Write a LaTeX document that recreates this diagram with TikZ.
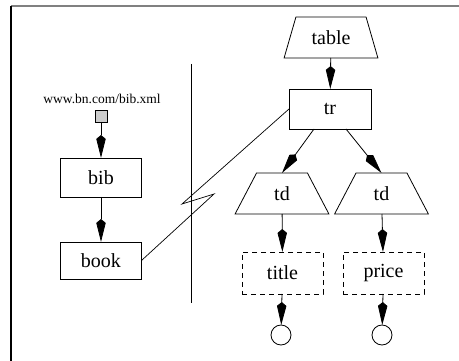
\documentclass[tikz,border=0pt]{standalone}
\usepackage{fontspec}
\setmainfont{Liberation Serif}
\usetikzlibrary{arrows.meta,shapes.geometric}
\begin{document}
\begin{tikzpicture}[x=1pt,y=-1pt,
  every node/.style={inner sep=0pt,outer sep=0pt,font=\fontsize{20}{24}\selectfont},
  box/.style={draw,line width=0.8pt,minimum width=81pt,minimum height=39pt},
  dbox/.style={box,dashed,dash pattern=on 5pt off 4pt,minimum height=42pt},
  trap/.style={draw,line width=0.8pt,trapezium,trapezium angle=65,
    trapezium stretches=true,minimum width=94pt,minimum height=41pt},
  leaf/.style={draw,circle,line width=0.8pt,minimum size=20pt},
  arr/.style={line width=0.8pt,-{Stealth[length=19pt,width=9pt,inset=-4pt]}},
  link/.style={line width=0.7pt}]
\useasboundingbox (0,0) rectangle (459,361);
% frame
\draw[line width=2pt,gray] (11,6) -- (459,6);
\draw[line width=1.4pt] (11,6) -- (11,361);
% separator
\coordinate (s1) at (191,64);
\coordinate (s2) at (191,303);
\draw[line width=0.8pt] (s1) -- (s2);
% source document
\node[font=\fontsize{13.5}{16}\selectfont] (url) at (102,99) {www.bn.com/bib.xml};
\node[draw,fill=gray!40,line width=0.7pt,minimum size=12pt] (src) at (101,116) {};
\node[box] (bib) at (101,177.5) {bib};
\node[box,minimum height=37pt] (book) at (101,260.5) {book};
\draw[arr] (src) -- (bib);
\draw[arr] (bib) -- (book);
% output tree
\node[trap] (table) at (331,37.5) {table};
\node[box,minimum width=82pt,minimum height=40pt] (tr) at (330,109) {tr};
\node[trap] (tdl) at (282,193.5) {td};
\node[trap] (tdr) at (381.5,193.5) {td};
\node[dbox] (title) at (282.5,273) {title};
\node[dbox] (price) at (383.5,273) {price};
\node[leaf] (c1) at (281,335) {};
\node[leaf] (c2) at (382,335) {};
\draw[arr] (table) -- (tr);
\draw[arr] ([xshift=-16pt]tr.south) -- (tdl.north);
\draw[arr] ([xshift=16pt]tr.south) -- (tdr.north);
\draw[arr] (tdl) -- (title);
\draw[arr] (tdr) -- (price);
\draw[arr] (title) -- (c1);
\draw[arr] (price) -- (c2);
% binding link
\coordinate (z1) at (182,204);
\coordinate (z2) at (214,194);
\draw[link] (tr.west) -- (z1) -- (z2) -- (book.east);
\end{tikzpicture}
\end{document}
